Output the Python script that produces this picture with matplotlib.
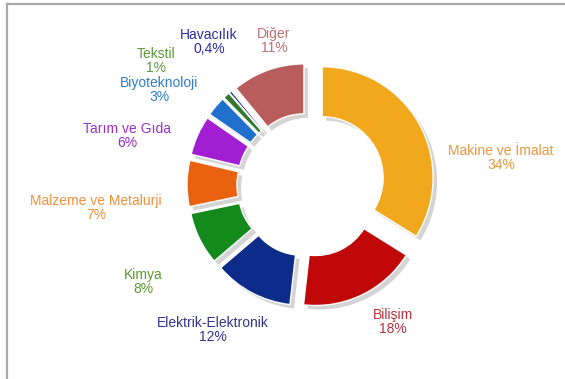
"""Sektörlere göre dağılım - halka (donut) grafik"""
import matplotlib
matplotlib.use("Agg")
import matplotlib.pyplot as plt

# veriler (saat yönünde, tepeden başlayarak)
sektorler = ["Makine ve İmalat", "Bilişim", "Elektrik-Elektronik", "Kimya",
             "Malzeme ve Metalurji", "Tarım ve Gıda", "Biyoteknoloji",
             "Tekstil", "Havacılık", "Diğer"]
oranlar = [34, 18, 12, 8, 7, 6, 3, 1, 0.4, 11]
oran_yazilari = ["34%", "18%", "12%", "8%", "7%", "6%", "3%", "1%", "0,4%", "11%"]

# dilim ve yazı renkleri
dilim_renkleri = ["#F2A81D", "#C00808", "#0D2C8A", "#14891C", "#E8620F",
                  "#A21ED2", "#1F6FCC", "#2F7A2F", "#1A237E", "#B85C5C"]
yazi_renkleri = ["#E8983F", "#B8323A", "#33338A", "#5A9A2A", "#F0903E",
                 "#9A30C8", "#2F7FCF", "#5A9A3A", "#2B2BA8", "#C07070"]

# yazıların yerleri (piksel, sol üst köşeden)
yazi_yerleri = [(501, 158), (393, 322), (213, 330), (143, 282), (96, 208),
                (127, 136), (159, 90), (156, 61), (209, 42), (274, 41)]

W, H = 565, 379
merkez = (309, H - 185)
yaricap = 107
kalinlik = 50
patlama = [15] * len(oranlar)

fig = plt.figure(figsize=(W / 100, H / 100), dpi=100)
ax = fig.add_axes([0, 0, 1, 1])

# gölge (gri, biraz sağa-aşağı kaydırılmış)
golge, _ = ax.pie(oranlar, colors=["#D4D4D4"] * len(oranlar), startangle=90,
                  counterclock=False, radius=yaricap,
                  center=(merkez[0] + 4, merkez[1] - 4), explode=patlama,
                  wedgeprops=dict(width=kalinlik, linewidth=0))
for g in golge:
    g.set_zorder(0.5)

# asıl dilimler
dilimler, _ = ax.pie(oranlar, colors=dilim_renkleri, startangle=90,
                     counterclock=False, radius=yaricap, center=merkez,
                     explode=patlama,
                     wedgeprops=dict(width=kalinlik, edgecolor="white", linewidth=1))

# Makine dilimi biraz daha büyük
for parca in (dilimler[0], golge[0]):
    parca.set_radius(yaricap + 4)
    parca.set_width(kalinlik)

# yazılar
for ad, yuzde, renk, (px, py) in zip(sektorler, oran_yazilari, yazi_renkleri, yazi_yerleri):
    ax.text(px, H - py, f"{ad}\n{yuzde}", color=renk, ha="center", va="center",
            fontsize=10, family="Liberation Sans", linespacing=1.08)

ax.set_xlim(0, W)
ax.set_ylim(0, H)
ax.set_aspect("equal")
ax.axis("off")

# çerçeve: sadece üst ve sol çizgi
cerceve = fig.add_axes([7 / W, 0, 1 - 7 / W, (H - 4) / H])
cerceve.patch.set_alpha(0)
cerceve.set_xticks([])
cerceve.set_yticks([])
for kenar in ("right", "bottom"):
    cerceve.spines[kenar].set_visible(False)
for kenar in ("top", "left"):
    cerceve.spines[kenar].set_color("#A8A8A8")
    cerceve.spines[kenar].set_linewidth(1.6)

fig.savefig("out.png", dpi=100)
